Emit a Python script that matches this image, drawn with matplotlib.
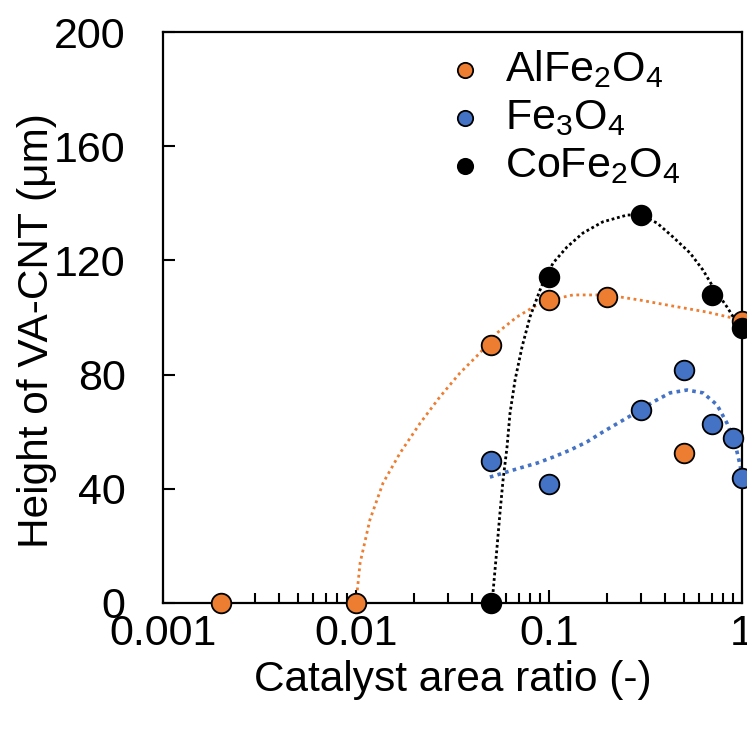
import matplotlib
matplotlib.use("Agg")
import matplotlib.pyplot as plt
from matplotlib.ticker import FixedLocator, FixedFormatter, LogLocator, NullFormatter

plt.rcParams['font.family'] = ['Liberation Sans', 'DejaVu Sans']
plt.rcParams['mathtext.default'] = 'regular'

# ---- data ----
al_x = [0.002, 0.01, 0.05, 0.1, 0.2, 0.5, 1.0]
al_y = [0.0, 0.0, 90.4, 106.0, 107.2, 52.5, 98.8]

fe_x = [0.05, 0.1, 0.3, 0.5, 0.7, 0.9, 1.0]
fe_y = [49.7, 41.7, 67.6, 81.6, 62.7, 57.8, 43.8]

co_x = [0.05, 0.1, 0.3, 0.7, 1.0]
co_y = [0.0, 114.2, 135.9, 107.9, 96.3]

# ---- trend curves ----
al_tx = [0.0100, 0.0105, 0.0118, 0.0138, 0.0169, 0.0215, 0.0272, 0.0346, 0.0439,
         0.0538, 0.0682, 0.0867, 0.101, 0.133, 0.200, 0.296, 0.439, 0.659, 0.898, 1.0]
al_ty = [0.0, 14.0, 29.1, 42.0, 52.5, 63.0, 72.2, 80.6, 87.6,
         94.6, 100.2, 104.4, 106.1, 107.9, 107.9, 106.1, 104.0, 101.9, 99.8, 99.1]

co_tx = [0.0507, 0.0538, 0.0557, 0.0578, 0.0606, 0.0628, 0.0667, 0.0725, 0.0797,
         0.0898, 0.0931, 0.105, 0.124, 0.150, 0.190, 0.254, 0.296, 0.363, 0.439,
         0.538, 0.628, 0.708, 0.836, 0.942, 1.0]
co_ty = [0.0, 19.6, 31.5, 43.1, 54.6, 66.5, 78.1, 89.7, 100.2,
         109.6, 112.1, 119.1, 124.7, 129.6, 133.5, 135.9, 135.9, 133.1, 128.2,
         122.6, 116.6, 110.7, 103.7, 98.1, 95.6]

fe_tx = [0.0494, 0.0578, 0.0708, 0.0867, 0.105, 0.129, 0.157, 0.190, 0.233,
         0.286, 0.346, 0.424, 0.519, 0.628, 0.742, 0.836, 0.920, 0.977, 1.0]
fe_ty = [44.1, 45.5, 47.3, 49.0, 51.1, 53.6, 56.4, 59.9, 63.4,
         66.9, 70.4, 73.6, 74.6, 73.6, 69.4, 63.0, 56.0, 48.3, 44.8]

x_ticks = [0.001, 0.01, 0.1, 1]
x_labels = ['0.001', '0.01', '0.1', '1']
y_ticks = [0, 40, 80, 120, 160, 200]
y_labels = ['0', '40', '80', '120', '160', '200']

labels = ['AlFe$_2$O$_4$', 'Fe$_3$O$_4$', 'CoFe$_2$O$_4$']
colors = ['#ED7D31', '#4472C4', '#000000']

fig = plt.figure(figsize=(7.47, 7.31), dpi=100)
ax = fig.add_axes([163/747, 128/731, 579/747, 571/731])

ax.plot(al_tx, al_ty, color=colors[0], lw=2.0, ls=(0, (1, 1.3)), zorder=2, clip_on=False)
ax.plot(fe_tx, fe_ty, color=colors[1], lw=2.6, ls=(0, (1, 1.2)), zorder=2, clip_on=False)
ax.plot(co_tx, co_ty, color=colors[2], lw=2.0, ls=(0, (1, 1.0)), zorder=2, clip_on=False)

series = [(al_x, al_y), (fe_x, fe_y), (co_x, co_y)]
for (xs, ys), c, lab in zip(series, colors, labels):
    ax.scatter(xs, ys, s=200, color=c, edgecolors='black', linewidths=1.3,
               label=lab, zorder=4, clip_on=False)

ax.set_xscale('log')
ax.set_xlim(0.001, 1)
ax.set_ylim(0, 200)
ax.xaxis.set_major_locator(FixedLocator(x_ticks))
ax.xaxis.set_major_formatter(FixedFormatter(x_labels))
ax.xaxis.set_minor_locator(LogLocator(base=10, subs=range(2, 10)))
ax.xaxis.set_minor_formatter(NullFormatter())
ax.yaxis.set_major_locator(FixedLocator(y_ticks))
ax.yaxis.set_major_formatter(FixedFormatter(y_labels))

ax.tick_params(axis='x', which='major', direction='in', length=9.5, width=1.5,
               labelsize=31, pad=8)
ax.tick_params(axis='x', which='minor', direction='in', length=7.5, width=1.5)
ax.tick_params(axis='y', which='major', direction='in', length=8.6, width=1.5,
               labelsize=31, pad=27)
for sp in ax.spines.values():
    sp.set_linewidth(1.6)

ax.set_xlabel('Catalyst area ratio (-)', fontsize=30.5, labelpad=4)
ax.set_ylabel('Height of VA-CNT (μm)', fontsize=30.5, labelpad=-2)
ax.yaxis.label.set_y(0.477)

leg = ax.legend(loc='upper left', bbox_to_anchor=(0.465, 0.972), frameon=False,
                fontsize=31, markerscale=0.78, handletextpad=0.18, handlelength=1.5,
                borderpad=0, borderaxespad=0, labelspacing=0.19, scatterpoints=1)

fig.savefig('out.png', dpi=100)
